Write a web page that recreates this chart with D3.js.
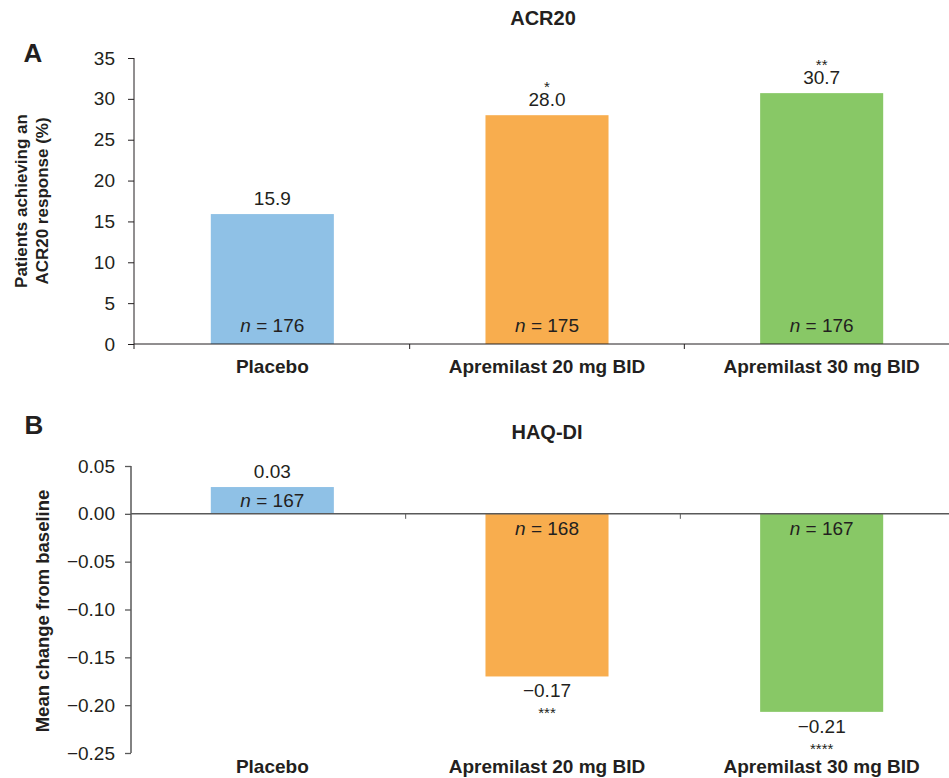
<!DOCTYPE html>
<meta charset="utf-8">
<style>
body { margin: 0; background: #fff; }
svg text { font-family: "Liberation Sans", Arial, sans-serif; fill: #231f20; }
.tick text { font-size: 19px; }
.cat { font-size: 19px; font-weight: bold; }
.val { font-size: 19px; }
.star { font-size: 15px; }
.title { font-size: 20px; font-weight: bold; }
.panel { font-size: 26px; font-weight: bold; }
</style>
<body>
<svg width="949" height="778"></svg>
<script src="https://cdn.jsdelivr.net/npm/d3@7"></script>
<script>

var categories = ["Placebo", "Apremilast 20 mg BID", "Apremilast 30 mg BID"];
var colors = ["#8fc1e6", "#f8ad4e", "#88c866"];

// panel A: ACR20
var acrValues = [15.9, 28.0, 30.7];
var acrN = [176, 175, 176];
var acrStars = ["", "*", "**"];
var acrTicks = [0, 5, 10, 15, 20, 25, 30, 35];

// panel B: HAQ-DI
var haqValues = [0.028, -0.170, -0.207];
var haqN = [167, 168, 167];
var haqStars = ["", "***", "****"];
var haqTicks = [0.05, 0, -0.05, -0.10, -0.15, -0.20, -0.25];

var svg = d3.select("svg");

var x = d3.scaleBand()
    .domain(categories)
    .range([135, 959])
    .paddingInner(0.552)
    .paddingOuter(0.276);

var xB = x.copy().range([131, 955]);

function nLabel(sel, n) {
  sel.append("tspan").attr("font-style", "italic").text("n");
  sel.append("tspan").text(" = " + n);
}

// ---------- Panel A ----------
var yA = d3.scaleLinear().domain([0, 35]).range([344, 58]);

svg.append("text").attr("class", "panel").attr("x", 33).attr("y", 62)
    .attr("text-anchor", "middle").text("A");
svg.append("text").attr("class", "title").attr("x", 543).attr("y", 25)
    .attr("text-anchor", "middle").text("ACR20");

var gA = svg.append("g");

gA.selectAll("rect")
  .data(acrValues)
  .enter().append("rect")
    .attr("x", function(d, i) { return x(categories[i]); })
    .attr("width", x.bandwidth())
    .attr("y", function(d) { return yA(d); })
    .attr("height", function(d) { return yA(0) - yA(d); })
    .attr("fill", function(d, i) { return colors[i]; });

var axA = svg.append("g")
    .attr("transform", "translate(134,0)")
    .call(d3.axisLeft(yA).tickValues(acrTicks).tickSize(6).tickPadding(13).tickSizeOuter(0));
axA.select(".domain").remove();
axA.selectAll("line").attr("stroke", "#231f20");

svg.append("line")
    .attr("x1", 134).attr("x2", 134).attr("y1", yA(35)).attr("y2", yA(0) + 5)
    .attr("stroke", "#231f20");
svg.append("line")
    .attr("x1", 134).attr("x2", 949).attr("y1", yA(0)).attr("y2", yA(0))
    .attr("stroke", "#231f20");

// boundary ticks between categories
svg.selectAll(".btA")
  .data(categories.slice(1))
  .enter().append("line")
    .attr("x1", function(d) { return x(d) - x.step() * x.paddingInner() / 2; })
    .attr("x2", function(d) { return x(d) - x.step() * x.paddingInner() / 2; })
    .attr("y1", yA(0)).attr("y2", yA(0) + 5)
    .attr("stroke", "#231f20");

gA.selectAll(".val")
  .data(acrValues)
  .enter().append("text")
    .attr("class", "val")
    .attr("text-anchor", "middle")
    .attr("x", function(d, i) { return x(categories[i]) + x.bandwidth() / 2; })
    .attr("y", function(d) { return yA(d) - 9; })
    .text(function(d) { return d3.format(".1f")(d); });

gA.selectAll(".star")
  .data(acrValues)
  .enter().append("text")
    .attr("class", "star")
    .attr("text-anchor", "middle")
    .attr("x", function(d, i) { return x(categories[i]) + x.bandwidth() / 2; })
    .attr("y", function(d) { return yA(d) - 23; })
    .text(function(d, i) { return acrStars[i]; });

gA.selectAll(".nlab")
  .data(acrN)
  .enter().append("text")
    .attr("class", "val")
    .attr("text-anchor", "middle")
    .attr("x", function(d, i) { return x(categories[i]) + x.bandwidth() / 2; })
    .attr("y", yA(0) - 12)
    .each(function(d) { nLabel(d3.select(this), d); });

svg.selectAll(".catA")
  .data(categories)
  .enter().append("text")
    .attr("class", "cat")
    .attr("text-anchor", "middle")
    .attr("x", function(d) { return x(d) + x.bandwidth() / 2; })
    .attr("y", 373)
    .text(function(d) { return d; });

var ytA = svg.append("text")
    .attr("transform", "translate(27,201) rotate(-90)")
    .attr("text-anchor", "middle")
    .attr("font-size", "17px")
    .attr("font-weight", "bold");
ytA.append("tspan").attr("x", 0).attr("dy", 0).text("Patients achieving an");
ytA.append("tspan").attr("x", 0).attr("dy", 21).text("ACR20 response (%)");

// ---------- Panel B ----------
var yB = d3.scaleLinear().domain([-0.25, 0.05]).range([753, 466]);

svg.append("text").attr("class", "panel").attr("x", 34).attr("y", 434)
    .attr("text-anchor", "middle").text("B");
svg.append("text").attr("class", "title").attr("x", 547).attr("y", 439)
    .attr("text-anchor", "middle").text("HAQ-DI");

var gB = svg.append("g");

gB.selectAll("rect")
  .data(haqValues)
  .enter().append("rect")
    .attr("x", function(d, i) { return x(categories[i]); })
    .attr("width", x.bandwidth())
    .attr("y", function(d) { return yB(Math.max(0, d)); })
    .attr("height", function(d) { return Math.abs(yB(d) - yB(0)); })
    .attr("fill", function(d, i) { return colors[i]; });

var axB = svg.append("g")
    .attr("transform", "translate(131,0)")
    .call(d3.axisLeft(yB).tickValues(haqTicks).tickFormat(d3.format(".2f"))
      .tickSize(6).tickPadding(10).tickSizeOuter(0));
axB.select(".domain").remove();
axB.selectAll("line").attr("stroke", "#595959").attr("stroke-width", 1.3);

svg.append("line")
    .attr("x1", 131).attr("x2", 131).attr("y1", yB(0.05)).attr("y2", yB(-0.25))
    .attr("stroke", "#595959").attr("stroke-width", 1.5);
svg.append("line")
    .attr("x1", 131).attr("x2", 949).attr("y1", yB(0)).attr("y2", yB(0))
    .attr("stroke", "#595959").attr("stroke-width", 1.5);

svg.selectAll(".btB")
  .data(categories.slice(1))
  .enter().append("line")
    .attr("x1", function(d) { return xB(d) - xB.step() * xB.paddingInner() / 2; })
    .attr("x2", function(d) { return xB(d) - xB.step() * xB.paddingInner() / 2; })
    .attr("y1", yB(0)).attr("y2", yB(0) + 5)
    .attr("stroke", "#595959");

gB.selectAll(".val")
  .data(haqValues)
  .enter().append("text")
    .attr("class", "val")
    .attr("text-anchor", "middle")
    .attr("x", function(d, i) { return x(categories[i]) + x.bandwidth() / 2; })
    .attr("y", function(d) { return d >= 0 ? yB(d) - 9 : yB(d) + 21; })
    .text(function(d) { return d3.format(".2f")(d); });

gB.selectAll(".star")
  .data(haqValues)
  .enter().append("text")
    .attr("class", "star")
    .attr("text-anchor", "middle")
    .attr("x", function(d, i) { return x(categories[i]) + x.bandwidth() / 2; })
    .attr("y", function(d) { return yB(d) + 42; })
    .text(function(d, i) { return haqStars[i]; });

gB.selectAll(".nlab")
  .data(haqN)
  .enter().append("text")
    .attr("class", "val")
    .attr("text-anchor", "middle")
    .attr("x", function(d, i) { return x(categories[i]) + x.bandwidth() / 2; })
    .attr("y", function(d, i) { return haqValues[i] >= 0 ? yB(0) - 7 : yB(0) + 21; })
    .each(function(d) { nLabel(d3.select(this), d); });

svg.selectAll(".catB")
  .data(categories)
  .enter().append("text")
    .attr("class", "cat")
    .attr("text-anchor", "middle")
    .attr("x", function(d) { return x(d) + x.bandwidth() / 2; })
    .attr("y", 773)
    .text(function(d) { return d; });

svg.append("text")
    .attr("transform", "translate(49,611) rotate(-90)")
    .attr("text-anchor", "middle")
    .attr("font-size", "18.5px")
    .attr("font-weight", "bold")
    .text("Mean change from baseline");

</script>
</body>
